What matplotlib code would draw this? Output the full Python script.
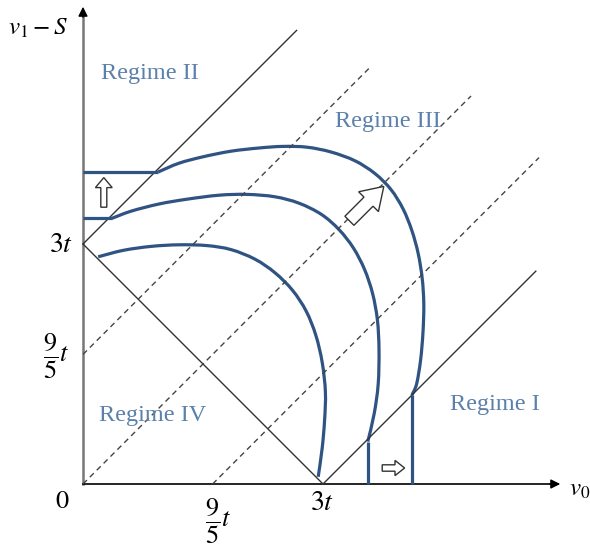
import numpy as np
import matplotlib.pyplot as plt
import matplotlib.patches as mpatches
from matplotlib.path import Path

plt.rcParams['mathtext.fontset'] = 'stix'
plt.rcParams['font.family'] = ['Liberation Serif', 'DejaVu Serif']

# positions on the axes, in units of t
T3 = 3.0          # 3t
T95 = 1.62        # 9/5 t as drawn

# three boundary curves (v0, v1 - S)
curve_a_x = [0.19, 0.50, 0.85, 1.20, 1.55, 1.85, 2.15, 2.40, 2.62, 2.79, 2.91, 2.99, 3.03, 3.02, 2.99, 2.94]
curve_a_y = [2.84, 2.92, 2.97, 2.99, 2.98, 2.93, 2.81, 2.64, 2.42, 2.16, 1.86, 1.52, 1.15, 0.80, 0.45, 0.09]

curve_b_x = [0.36, 0.60, 0.95, 1.30, 1.70, 2.05, 2.40, 2.70, 2.98, 3.20, 3.38, 3.52, 3.62, 3.68, 3.70, 3.69, 3.64, 3.56]
curve_b_y = [3.32, 3.41, 3.50, 3.56, 3.61, 3.62, 3.59, 3.51, 3.37, 3.18, 2.95, 2.68, 2.38, 2.05, 1.68, 1.25, 0.88, 0.53]

curve_c_x = [0.94, 1.20, 1.50, 1.85, 2.20, 2.50, 2.80, 3.10, 3.40, 3.65, 3.85, 4.00, 4.11, 4.19, 4.24, 4.26, 4.25, 4.22, 4.17, 4.11]
curve_c_y = [3.90, 4.01, 4.09, 4.16, 4.20, 4.22, 4.21, 4.15, 4.04, 3.88, 3.68, 3.44, 3.17, 2.88, 2.57, 2.25, 1.90, 1.55, 1.25, 1.11]

# 45-degree guide lines: (intercept, x start, x end)
solid_lines = [(T3, 0.0, 2.67), (-T3, T3, 5.66)]
dashed_lines = [(T95, 0.0, 3.6), (0.0, 0.0, 4.85), (-T95, T95, 5.7)]

regimes = ['Regime I', 'Regime II', 'Regime III', 'Regime IV']
regime_pos = [(5.15, 0.99), (0.84, 5.125), (3.81, 4.525), (0.875, 0.86)]


def smooth_path(xs, ys):
    # Catmull-Rom through the points, written as cubic Bezier segments
    p = np.column_stack([xs, ys])
    ext = np.vstack([p[0], p, p[-1]])
    verts = [p[0]]
    codes = [Path.MOVETO]
    for i in range(1, len(ext) - 2):
        c1 = ext[i] + (ext[i + 1] - ext[i - 1]) / 6
        c2 = ext[i + 1] - (ext[i + 2] - ext[i]) / 6
        verts += [c1, c2, ext[i + 1]]
        codes += [Path.CURVE4] * 3
    return Path(verts, codes)


fig = plt.figure(figsize=(5.9, 5.46), dpi=100)
ax = fig.add_axes([0, 0, 1, 1])
ax.set_xlim(-1.0375, 6.3375)
ax.set_ylim(-0.775, 6.05)
ax.axis('off')

# axes with arrow heads
ax.plot([0, 0], [0, 5.85], color='#777777', lw=1.8)
ax.plot([0, 5.85], [0, 0], color='black', lw=1.2)
ax.annotate('', xy=(0, 6.0), xytext=(0, 5.8),
            arrowprops=dict(arrowstyle='-|>', color='black', lw=1, mutation_scale=14))
ax.annotate('', xy=(6.0, 0), xytext=(5.8, 0),
            arrowprops=dict(arrowstyle='-|>', color='black', lw=1, mutation_scale=14))

for b, x0, x1 in solid_lines:
    ax.plot([x0, x1], [x0 + b, x1 + b], color='#333333', lw=1.0)
ax.plot([0, T3], [T3, 0], color='#333333', lw=1.0)
for b, x0, x1 in dashed_lines:
    ax.plot([x0, x1], [x0 + b, x1 + b], color='#444444', lw=1.0, dashes=(4, 3))

blue = '#2f5382'
for cx, cy in [(curve_a_x, curve_a_y), (curve_b_x, curve_b_y), (curve_c_x, curve_c_y)]:
    ax.add_patch(mpatches.PathPatch(smooth_path(cx, cy), fill=False, edgecolor=blue,
                                    lw=2.3, capstyle='butt'))
# flat ends on the axis side and straight drops to the v0 axis
for cx, cy in [(curve_b_x, curve_b_y), (curve_c_x, curve_c_y)]:
    ax.plot([0, cx[0]], [cy[0], cy[0]], color=blue, lw=2.3, solid_capstyle='butt')
    ax.plot([cx[-1], cx[-1]], [cy[-1], 0], color=blue, lw=2.3, solid_capstyle='butt')

# hollow arrows
arrow_kw = dict(facecolor='white', edgecolor='#333333', lw=1.0, length_includes_head=True, zorder=5)
ax.add_patch(mpatches.FancyArrow(0.26, 3.46, 0, 0.37, width=0.075, head_width=0.21,
                                 head_length=0.125, **arrow_kw))
ax.add_patch(mpatches.FancyArrow(3.74, 0.2, 0.28, 0, width=0.08, head_width=0.19,
                                 head_length=0.12, **arrow_kw))
ax.add_patch(mpatches.FancyArrow(3.33, 3.29, 0.43, 0.43, width=0.16, head_width=0.35,
                                 head_length=0.27, **arrow_kw))

for name, (x, y) in zip(regimes, regime_pos):
    ax.text(x, y, name, color='#5b80ab', fontsize=17.5, ha='center', va='center')

ax.text(2.99, -0.25, r'$3t$', fontsize=20, ha='center', va='center')
ax.text(-0.27, 2.975, r'$3t$', fontsize=20, ha='center', va='center')
ax.text(-0.26, -0.225, r'$0$', fontsize=19, ha='center', va='center')
ax.text(-0.33, 1.59, r'$\dfrac{9}{5}t$', fontsize=19, ha='center', va='center')
ax.text(1.69, -0.47, r'$\dfrac{9}{5}t$', fontsize=19, ha='center', va='center')
ax.text(-0.56, 5.7, r'$v_1-S$', fontsize=18, ha='center', va='center')
ax.text(6.21, -0.075, r'$v_0$', fontsize=18, ha='center', va='center')

fig.savefig('out.png', dpi=100)
